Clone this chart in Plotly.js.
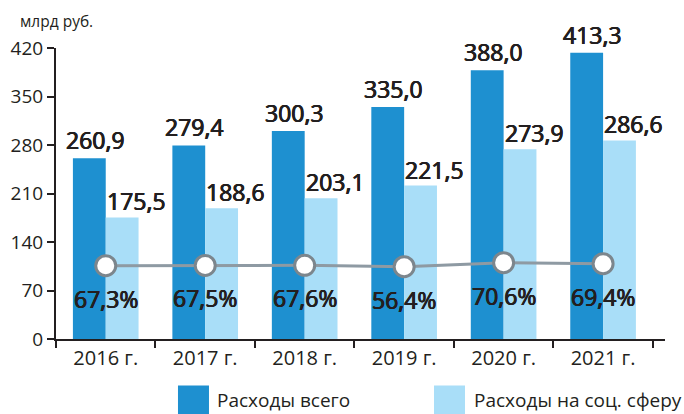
<!DOCTYPE html>
<html>
<head>
<meta charset="utf-8">
<script src="https://cdn.plot.ly/plotly-3.0.1.min.js"></script>
<style>html,body{margin:0;padding:0;background:#fff;}#chart{width:684px;height:414px;}</style>
</head>
<body>
<div id="chart"></div>
<script>
const categories = ["2016 г.", "2017 г.", "2018 г.", "2019 г.", "2020 г.", "2021 г."];
const totalSpending = [260.9, 279.4, 300.3, 335.0, 388.0, 413.3];
const socialSpending = [175.5, 188.6, 203.1, 221.5, 273.9, 286.6];
const shareValues = [67.3, 67.5, 67.6, 66.1, 70.6, 69.4];
const shareLabels = ["67,3%", "67,5%", "67,6%", "56,4%", "70,6%", "69,4%"];
const seriesNames = ["Расходы всего", "Расходы на соц. сферу"];
const yTicks = [0, 70, 140, 210, 280, 350, 420];

const fmt = v => v.toFixed(1).replace('.', ',');
const FONT = '"Open Sans", "Noto Sans", sans-serif';
const DARK = '#1e90d0';
const LIGHT = '#a9def8';
const TXT = '#231f20';
const THICK = '0.45px 0 0 #231f20, -0.45px 0 0 #231f20, 0 0.3px 0 #231f20';

const traces = [
  {type: 'bar', x: categories, y: totalSpending, name: seriesNames[0], marker: {color: DARK}, hoverinfo: 'skip'},
  {type: 'bar', x: categories, y: socialSpending, name: seriesNames[1], marker: {color: LIGHT}, hoverinfo: 'skip'},
  {type: 'scatter', mode: 'lines+markers', x: categories, y: shareValues, yaxis: 'y2',
   line: {color: '#8e9aa3', width: 3},
   marker: {size: 20, color: '#ffffff', line: {color: '#7c868d', width: 3}}, hoverinfo: 'skip'}
];

const labelFont = {family: FONT, size: 23, color: TXT, weight: 400, shadow: THICK};
const annotations = [];
const barHalf = 0.165;
totalSpending.forEach((v, i) => annotations.push({
  x: i - barHalf, y: v, xref: 'x', yref: 'y', text: fmt(v), showarrow: false,
  yanchor: 'bottom', xanchor: 'center', xshift: 6, yshift: 0, font: labelFont
}));
socialSpending.forEach((v, i) => annotations.push({
  x: i + barHalf, y: v, xref: 'x', yref: 'y', text: fmt(v), showarrow: false,
  yanchor: 'bottom', xanchor: 'center', xshift: 14, yshift: -2, font: labelFont
}));
shareValues.forEach((v, i) => annotations.push({
  x: i, y: v, xref: 'x', yref: 'y2', text: shareLabels[i], showarrow: false,
  yanchor: 'middle', xanchor: 'center', yshift: -33, font: labelFont
}));
annotations.push({
  x: -0.062, y: 1.0945, xref: 'paper', yref: 'paper', text: 'млрд руб.', showarrow: false,
  xanchor: 'left', yanchor: 'middle', font: {family: FONT, size: 15.5, color: TXT}
});
const legendTextX = [0.261, 0.683];
seriesNames.forEach((n, i) => annotations.push({
  x: legendTextX[i], y: -0.208, xref: 'paper', yref: 'paper', text: n, showarrow: false,
  xanchor: 'left', yanchor: 'middle', font: {family: FONT, size: 19, color: TXT}
}));

const shapes = [
  {type: 'rect', xref: 'paper', yref: 'paper', x0: 0.2003, x1: 0.2512, y0: -0.160, y1: -0.30, fillcolor: DARK, line: {width: 0}},
  {type: 'rect', xref: 'paper', yref: 'paper', x0: 0.6207, x1: 0.6716, y0: -0.160, y1: -0.30, fillcolor: LIGHT, line: {width: 0}}
];

const layout = {
  width: 684, height: 414,
  margin: {l: 56, r: 19, t: 47.5, b: 74.7, pad: 0},
  paper_bgcolor: '#ffffff', plot_bgcolor: '#ffffff',
  showlegend: false,
  barmode: 'group', bargap: 0.34, bargroupgap: 0,
  font: {family: FONT, color: TXT},
  xaxis: {
    type: 'category', showline: true, linecolor: TXT, linewidth: 2,
    ticks: 'outside', tickson: 'boundaries', ticklen: 7, tickwidth: 2, tickcolor: TXT,
    tickfont: {family: FONT, size: 20, color: TXT}, showgrid: false, zeroline: false
  },
  yaxis: {
    range: [0, 420], tickvals: yTicks, showline: true, linecolor: TXT, linewidth: 2,
    ticks: 'outside', ticklen: 7, tickwidth: 2, tickcolor: TXT,
    tickfont: {family: FONT, size: 19, color: TXT}, showgrid: false, zeroline: false
  },
  yaxis2: {overlaying: 'y', range: [-13.6, 307.3], visible: false, showgrid: false, zeroline: false},
  annotations: annotations,
  shapes: shapes
};

Plotly.newPlot('chart', traces, layout, {staticPlot: true, displayModeBar: false});
</script>
</body>
</html>
